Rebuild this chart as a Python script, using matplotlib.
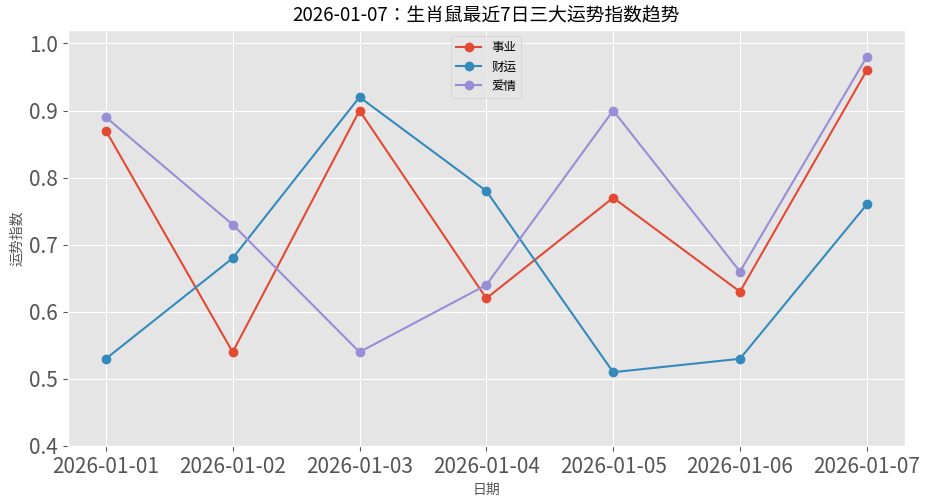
import matplotlib
matplotlib.use("Agg")
import matplotlib.pyplot as plt

plt.style.use('ggplot')
plt.rcParams['font.family'] = ['Noto Sans CJK JP', 'DejaVu Sans']
plt.rcParams['axes.unicode_minus'] = False

dates = ["2026-01-01", "2026-01-02", "2026-01-03", "2026-01-04",
         "2026-01-05", "2026-01-06", "2026-01-07"]
career = [0.87, 0.54, 0.90, 0.62, 0.77, 0.63, 0.96]
wealth = [0.53, 0.68, 0.92, 0.78, 0.51, 0.53, 0.76]
love = [0.89, 0.73, 0.54, 0.64, 0.90, 0.66, 0.98]

fig, ax = plt.subplots(figsize=(9.29, 5), dpi=100)
ax.plot(dates, career, marker='o', label='事业')
ax.plot(dates, wealth, marker='o', label='财运')
ax.plot(dates, love, marker='o', label='爱情')

ax.set_ylim(0.4, 1.02)
ax.set_title('2026-01-07：生肖鼠最近7日三大运势指数趋势', fontsize=13.5)
ax.set_xlabel('日期', fontsize=10)
ax.set_ylabel('运势指数', fontsize=10)
ax.tick_params(axis='both', labelsize=15)
ax.legend(loc='upper center', fontsize=9)

plt.subplots_adjust(left=0.073, right=0.974, top=0.94, bottom=0.108)
plt.savefig('out.png')
